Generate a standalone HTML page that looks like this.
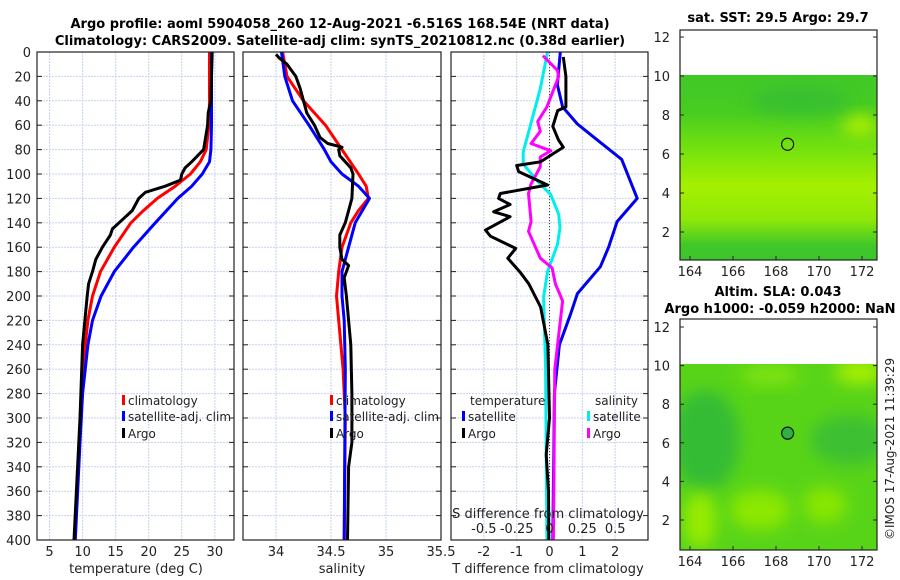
<!DOCTYPE html>
<html><head><meta charset="utf-8"><style>
html,body{margin:0;padding:0;background:#fff;}
svg{display:block;font-family:"DejaVu Sans","Liberation Sans",sans-serif;}
</style></head><body>
<svg id="c" width="900" height="580" viewBox="0 0 900 580" xmlns="http://www.w3.org/2000/svg">
<defs>
<linearGradient id="sstg" x1="0" y1="0" x2="0" y2="1">
<stop offset="0" stop-color="#40c828"/><stop offset="0.2" stop-color="#48cc20"/>
<stop offset="0.38" stop-color="#70e010"/><stop offset="0.6" stop-color="#a4f000"/>
<stop offset="0.78" stop-color="#90e808"/><stop offset="0.92" stop-color="#40c828"/><stop offset="1" stop-color="#3cc42c"/>
</linearGradient>
<filter id="blur" x="-50%" y="-50%" width="200%" height="200%"><feGaussianBlur stdDeviation="8"/></filter>
<clipPath id="m1"><rect x="680" y="75" width="197" height="185"/></clipPath>
<clipPath id="m2"><rect x="680" y="364" width="197" height="186"/></clipPath>
</defs>
<g id="titles" font-weight="bold" font-size="13" text-anchor="middle" fill="#000">
<text x="340" y="28">Argo profile: aoml 5904058_260 12-Aug-2021 -6.516S 168.54E (NRT data)</text>
<text x="340" y="45">Climatology: CARS2009. Satellite-adj clim: synTS_20210812.nc (0.38d earlier)</text>
</g>
<g id="grids"></g>
<g id="lines"></g>
<g id="frames"></g>
<g id="maps">
<text x="778" y="22" font-size="13" font-weight="bold" text-anchor="middle">sat. SST: 29.5 Argo: 29.7</text>
<rect x="680" y="75" width="197" height="185" fill="url(#sstg)"/>
<g clip-path="url(#m1)">
<ellipse cx="860" cy="125" rx="18" ry="10" fill="#b0f000" filter="url(#blur)"/>
<ellipse cx="800" cy="100" rx="50" ry="14" fill="#38c030" filter="url(#blur)"/>
</g>
<text x="778" y="296" font-size="13" font-weight="bold" text-anchor="middle">Altim. SLA: 0.043</text>
<text x="780" y="313" font-size="13" font-weight="bold" text-anchor="middle">Argo h1000: -0.059 h2000: NaN</text>
<rect x="680" y="364" width="197" height="186" fill="#58d418"/>
<g clip-path="url(#m2)">
<ellipse cx="705" cy="440" rx="35" ry="50" fill="#34bc34" filter="url(#blur)"/>
<ellipse cx="850" cy="440" rx="40" ry="25" fill="#3cc030" filter="url(#blur)"/>
<ellipse cx="860" cy="372" rx="25" ry="12" fill="#a8f000" filter="url(#blur)"/>
<ellipse cx="770" cy="375" rx="30" ry="10" fill="#80e408" filter="url(#blur)"/>
<ellipse cx="700" cy="520" rx="16" ry="28" fill="#98ec00" filter="url(#blur)"/>
<ellipse cx="760" cy="510" rx="30" ry="20" fill="#8ce800" filter="url(#blur)"/>
<ellipse cx="825" cy="505" rx="22" ry="18" fill="#88e600" filter="url(#blur)"/>
</g>
<text transform="translate(894,540) rotate(-90)" font-size="12" fill="#222">©IMOS 17-Aug-2021 11:39:29</text>
</g>
<g id="mapaxes"></g>
</svg>
<script>
const NS="http://www.w3.org/2000/svg";
function mk(parent,tag,attrs,text){const e=document.createElementNS(NS,tag);for(const k in attrs)e.setAttribute(k,attrs[k]);if(text!==undefined)e.textContent=text;parent.appendChild(e);return e;}
// ---- data ----
const depthTicks=[0,20,40,60,80,100,120,140,160,180,200,220,240,260,280,300,320,340,360,380,400];
const tempTicks=[5,10,15,20,25,30];
const salTicks=[34,34.5,35,35.5];
const salTickLabels=["34","34.5","35","35.5"];
const tdiffTicks=[-2,-1,0,1,2];
const sdiffTicks=[-0.5,-0.25,0,0.25,0.5];
const sdiffTickLabels=["-0.5","-0.25","0","0.25","0.5"];
const tClimDepth=[0,20,40,60,80,90,100,110,120,130,140,160,180,200,220,240,260,300,340,400];
const tClimVal=[29.2,29.2,29.2,29.1,28.7,27.8,26.3,24.0,21.3,19.2,17.3,14.8,12.7,11.5,10.8,10.4,10.1,9.7,9.3,8.8];
const tSatDepth=[0,20,40,60,80,90,100,110,120,140,160,180,200,220,240,280,320,400];
const tSatVal=[29.5,29.5,29.5,29.5,29.4,29.2,28.1,26.5,24.4,21.0,17.7,14.8,12.8,11.5,10.8,10.0,9.6,8.9];
const tArgoDepth=[0,20,40,50,60,80,90,95,100,105,110,115,120,130,140,145,150,160,170,180,190,200,240,300,400];
const tArgoVal=[29.6,29.5,29.4,29.0,28.9,28.3,26.5,25.5,25.0,24.8,22.5,19.5,18.5,17.5,15.5,14.5,14.2,13.0,12.0,11.5,10.9,10.7,10.0,9.6,8.7];
const sClimDepth=[0,20,40,60,80,100,110,120,130,140,160,180,200,220,260,300,400];
const sClimVal=[34.06,34.1,34.25,34.45,34.6,34.75,34.82,34.84,34.75,34.68,34.6,34.57,34.55,34.57,34.61,34.63,34.62];
const sSatDepth=[0,20,40,60,80,90,100,110,120,140,160,180,200,220,260,400];
const sSatVal=[34.05,34.08,34.15,34.3,34.44,34.5,34.6,34.75,34.85,34.72,34.66,34.6,34.6,34.62,34.63,34.62];
const sArgoDepth=[2,5,10,20,30,40,50,60,70,75,78,80,85,95,100,120,140,150,160,170,175,185,200,220,240,280,320,340,400];
const sArgoVal=[34.0,34.03,34.1,34.18,34.22,34.25,34.28,34.35,34.4,34.47,34.6,34.57,34.58,34.68,34.7,34.69,34.63,34.58,34.58,34.6,34.66,34.62,34.64,34.66,34.68,34.69,34.69,34.66,34.65];
const dTSatDepth=[0,27,45,59,72,88,120,139,160,176,198,215,240,280,400];
const dTSatVal=[0.33,0.24,0.4,0.85,1.45,2.2,2.67,2.06,1.8,1.55,0.85,0.64,0.3,0.15,0.1];
const dTArgoDepth=[4,20,45,48,61,72,78,90,93,98,109,116,120,125,131,135,146,151,161,169,181,190,209,240,300,330,360,400];
const dTArgoVal=[0.42,0.5,0.5,0.25,0.1,0.27,0.42,-0.27,-1.0,-0.94,-0.06,-1.5,-1.55,-1.2,-1.7,-1.2,-1.95,-1.8,-1.03,-1.27,-0.88,-0.63,-0.27,-0.05,0.0,-0.1,-0.03,-0.02];
const dSSatDepth=[0,30,58,82,92,106,117,133,144,158,180,201,260,400];
const dSSatVal=[-0.015,-0.07,-0.14,-0.2,-0.2,-0.09,0.01,0.07,0.08,0.06,-0.015,-0.045,-0.03,-0.02];
const dSArgoDepth=[3,15,20,45,57,65,75,81,86,94,108,116,139,147,169,177,190,204,260,400];
const dSArgoVal=[-0.05,0.06,0.07,-0.02,-0.09,-0.07,-0.14,0.01,-0.07,-0.07,-0.14,-0.16,-0.14,-0.16,-0.07,0.02,0.045,0.1,0.04,0.03];
const mapLonTicks=[164,166,168,170,172];
const mapLatTicks=[2,4,6,8,10,12];
const argoLon=168.54, argoLat=6.5;
// ---- axes ----
const Y0=52,Y1=540;
const yD=d=>Y0+(d/400)*(Y1-Y0);
const panels=[
 {x0:37,x1:234,min:3.1,max:32.9,name:'temperature'},
 {x0:243,x1:441,min:33.7,max:35.5,name:'salinity'},
 {x0:451,x1:648,min:-3,max:3,name:'difference'}];
const xS=(p,v)=>p.x0+(v-p.min)/(p.max-p.min)*(p.x1-p.x0);
const xSd=v=>xS(panels[2],v*4);
const grids=document.getElementById('grids'),lines=document.getElementById('lines'),frames=document.getElementById('frames');
function vgrid(p,ticks,f){ticks.forEach(t=>{const x=f(t);const l=mk(grids,'line',{x1:x,x2:x,y1:Y0,y2:Y1,stroke:'#c8d0ee','stroke-width':1,'stroke-dasharray':'2,1'});

});}
panels.forEach(p=>{depthTicks.forEach(d=>{const l=mk(grids,'line',{x1:p.x0,x2:p.x1,y1:yD(d),y2:yD(d),stroke:'#c8d0ee','stroke-width':1,'stroke-dasharray':'2,1'});

});});
vgrid(panels[0],tempTicks,v=>xS(panels[0],v));
vgrid(panels[1],salTicks,v=>xS(panels[1],v));
vgrid(panels[2],tdiffTicks,v=>xS(panels[2],v));
const z=mk(grids,'line',{x1:xS(panels[2],0),x2:xS(panels[2],0),y1:Y0,y2:Y1,stroke:'#444','stroke-width':1,'stroke-dasharray':'1,2'});


function series(p,depths,vals,color,name,fx){
 const f=fx||(v=>xS(p,v));
 const pts=depths.map((d,i)=>f(vals[i]).toFixed(1)+','+yD(d).toFixed(1)).join(' ');
 const e=mk(lines,'polyline',{points:pts,fill:'none',stroke:color,'stroke-width':3,'stroke-linejoin':'round'});
 
 
}
const P0=panels[0],P1=panels[1],P2=panels[2];
series(P0,tClimDepth,tClimVal,'#ff0000','temp-climatology-line');
series(P0,tSatDepth,tSatVal,'#0000ff','temp-satellite-line');
series(P0,tArgoDepth,tArgoVal,'#000000','temp-argo-line');
series(P1,sClimDepth,sClimVal,'#ff0000','sal-climatology-line');
series(P1,sSatDepth,sSatVal,'#0000ff','sal-satellite-line');
series(P1,sArgoDepth,sArgoVal,'#000000','sal-argo-line');
series(P2,dTSatDepth,dTSatVal,'#0000ee','tdiff-satellite-line');
series(P2,dSSatDepth,dSSatVal,'#00eeee','sdiff-satellite-line',xSd);
series(P2,dSArgoDepth,dSArgoVal,'#ff00ff','sdiff-argo-line',xSd);
series(P2,dTArgoDepth,dTArgoVal,'#000000','tdiff-argo-line');
panels.forEach(p=>{const r=mk(frames,'rect',{x:p.x0,y:Y0,width:p.x1-p.x0,height:Y1-Y0,fill:'none',stroke:'#222','stroke-width':1.2});


depthTicks.forEach(d=>{mk(frames,'line',{x1:p.x0,x2:p.x0+5,y1:yD(d),y2:yD(d),stroke:'#222'});mk(frames,'line',{x1:p.x1-5,x2:p.x1,y1:yD(d),y2:yD(d),stroke:'#222'});});});
depthTicks.forEach(d=>{const t=mk(frames,'text',{x:31,y:yD(d)+5,'font-size':13,'text-anchor':'end',fill:'#222'},String(d));

});
function xlabels(ticks,labels,f,y){ticks.forEach((v,i)=>{const t=mk(frames,'text',{x:f(v),y:y,'font-size':13,'text-anchor':'middle',fill:'#222'},labels[i]);

});}
xlabels(tempTicks,tempTicks.map(String),v=>xS(P0,v),556);
xlabels(salTicks,salTickLabels,v=>xS(P1,v),556);
xlabels(tdiffTicks,tdiffTicks.map(String),v=>xS(P2,v),556);
xlabels(sdiffTicks,sdiffTickLabels,xSd,533);
function txt(x,y,s,name,opts){const t=mk(frames,'text',Object.assign({x:x,y:y,'font-size':13,fill:'#222'},opts||{}),s);

return t;}
txt(136,573,'temperature (deg C)','x-axis-title-temperature',{'text-anchor':'middle'});
txt(342,573,'salinity','x-axis-title-salinity',{'text-anchor':'middle'});
txt(548,573,'T difference from climatology','x-axis-title-tdiff',{'text-anchor':'middle'});
txt(548,518,'S difference from climatology','x-axis-title-sdiff',{'text-anchor':'middle'});
function legend(x,y,color,label,name){const b=mk(frames,'rect',{x:x,y:y-10,width:3,height:10,fill:color});


txt(x+6,y,label,name,{'font-size':12});}
legend(122,405,'#ff0000','climatology','legend-temp-climatology');
legend(122,421,'#0000ff','satellite-adj. clim','legend-temp-satellite');
legend(122,438,'#000000','Argo','legend-temp-argo');
legend(330,405,'#ff0000','climatology','legend-sal-climatology');
legend(330,421,'#0000ff','satellite-adj. clim','legend-sal-satellite');
legend(330,438,'#000000','Argo','legend-sal-argo');
txt(470,405,'temperature','legend-title-temperature',{'font-size':12});
legend(462,421,'#0000ee','satellite','legend-tdiff-satellite');
legend(462,438,'#000000','Argo','legend-tdiff-argo');
txt(595,405,'salinity','legend-title-salinity',{'font-size':12});
legend(587,421,'#00eeee','satellite','legend-sdiff-satellite');
legend(587,438,'#ff00ff','Argo','legend-sdiff-argo');
const ma=document.getElementById('mapaxes');
const maps=[{y12:37,y2:232,name:'sst-map'},{y12:327,y2:520,name:'sla-map'}];
const lonX=l=>690+(l-164)*21.5;
maps.forEach((m,i)=>{const top=i==0?30:319,bot=i==0?260:550;
const ly=v=>m.y2+(v-2)*(m.y12-m.y2)/10;
const r=mk(ma,'rect',{x:680,y:top,width:197,height:bot-top,fill:'none',stroke:'#222','stroke-width':1.2});


mapLatTicks.forEach(v=>{mk(ma,'line',{x1:680,x2:684,y1:ly(v),y2:ly(v),stroke:'#222'});mk(ma,'line',{x1:873,x2:877,y1:ly(v),y2:ly(v),stroke:'#222'});
const t=mk(ma,'text',{x:670,y:ly(v)+5,'font-size':13,'text-anchor':'end',fill:'#222'},String(v));

});
mapLonTicks.forEach(v=>{mk(ma,'line',{x1:lonX(v),x2:lonX(v),y1:bot-4,y2:bot,stroke:'#222'});
const t=mk(ma,'text',{x:lonX(v),y:bot+16,'font-size':13,'text-anchor':'middle',fill:'#222'},String(v));

});
const c=mk(ma,'circle',{cx:lonX(argoLon),cy:ly(argoLat),r:6,fill:i==0?'none':'#30b040',stroke:'#111','stroke-width':1.2});


});
</script>
</body></html>
